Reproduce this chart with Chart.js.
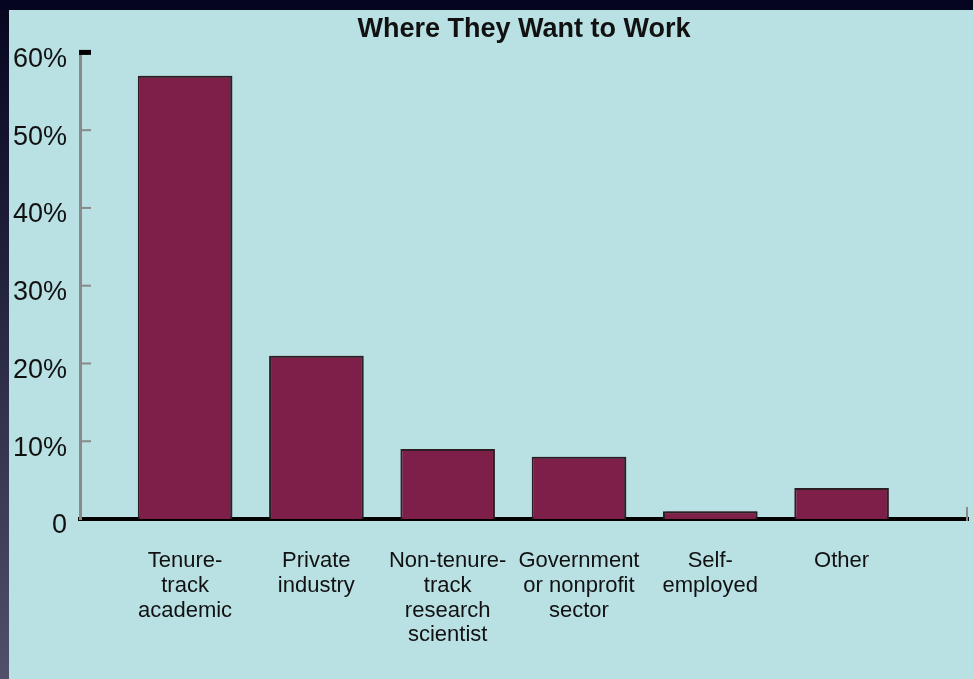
<!DOCTYPE html>
<html>
<head>
<meta charset="utf-8">
<script src="https://cdn.jsdelivr.net/npm/chart.js@4/dist/chart.umd.min.js"></script>
<style>
  html, body { margin: 0; padding: 0; background: #05051f; }
  #wrap { width: 973px; height: 679px; position: relative; }
</style>
</head>
<body>
<div id="wrap"><canvas id="c" width="973" height="679"></canvas></div>
<script>
// ---- data ----
const titleText = "Where They Want to Work";
const categories = [
  ["Tenure-", "track", "academic"],
  ["Private", "industry"],
  ["Non-tenure-", "track", "research", "scientist"],
  ["Government", "or nonprofit", "sector"],
  ["Self-", "employed"],
  ["Other"]
];
const shares = [57, 21, 9, 8, 1, 4];
const yTicks = [0, 10, 20, 30, 40, 50, 60];
const yTickLabels = ["0", "10%", "20%", "30%", "40%", "50%", "60%"];

const panelBg = '#b9e0e3';

const bgPlugin = {
  id: 'bg',
  beforeDraw(chart) {
    const ctx = chart.ctx, w = chart.width, h = chart.height;
    ctx.save();
    ctx.fillStyle = panelBg;
    ctx.fillRect(0, 0, w, h);
    const g = ctx.createLinearGradient(0, 0, 0, h);
    g.addColorStop(0, '#06061f');
    g.addColorStop(0.35, '#1e1e3a');
    g.addColorStop(1, '#50506a');
    ctx.fillStyle = g;
    ctx.fillRect(0, 0, 9, h);
    ctx.fillStyle = '#05051f';
    ctx.fillRect(0, 0, w, 10);
    ctx.restore();
  }
};

const shadowPlugin = {
  id: 'barShadow',
  beforeDatasetsDraw(chart) {
    const ctx = chart.ctx;
    ctx.save();
    ctx.shadowColor = 'rgba(40,40,40,0.55)';
    ctx.shadowOffsetX = 3;
    ctx.shadowOffsetY = 0;
    ctx.shadowBlur = 2;
  },
  afterDatasetsDraw(chart) {
    chart.ctx.restore();
  }
};

const innerTicks = {
  id: 'innerTicks',
  afterDraw(chart) {
    const ctx = chart.ctx, ys = chart.scales.y, xs = chart.scales.x;
    const x0 = ys.right;
    ctx.save();
    yTicks.forEach((v, i) => {
      const y = ys.getPixelForValue(v);
      if (i === 0) return;
      const top = i === yTicks.length - 1;
      ctx.strokeStyle = top ? '#000' : '#8a8a8a';
      ctx.lineWidth = top ? 5 : 2;
      ctx.beginPath();
      ctx.moveTo(x0 - 1, y);
      ctx.lineTo(x0 + 11, y);
      ctx.stroke();
    });
    // small end tick at the right end of the category axis
    const yb = ys.getPixelForValue(0);
    ctx.strokeStyle = '#8a8a8a';
    ctx.lineWidth = 2;
    ctx.beginPath();
    ctx.moveTo(xs.right - 1, yb + 2);
    ctx.lineTo(xs.right - 1, yb - 12);
    ctx.stroke();
    ctx.restore();
  }
};

new Chart(document.getElementById('c'), {
  type: 'bar',
  data: {
    datasets: [{
      data: shares.map((v, i) => ({ x: i, y: v })),
      backgroundColor: '#7e1f4a',
      borderColor: '#2e1e24',
      borderWidth: 2,
      borderSkipped: 'bottom',
      barPercentage: 0.9,
      categoryPercentage: 0.8
    }]
  },
  options: {
    responsive: false,
    animation: false,
    devicePixelRatio: 1,
    layout: { padding: { left: 12, right: 5, top: 0, bottom: 0 } },
    plugins: {
      legend: { display: false },
      tooltip: { enabled: false },
      title: {
        display: true,
        text: titleText,
        fullSize: false,
        color: '#111',
        font: { family: 'Liberation Sans, Arial, sans-serif', size: 27, weight: 'bold' },
        padding: { top: 13, bottom: 7 }
      }
    },
    scales: {
      x: {
        type: 'linear',
        offset: false,
        min: -0.8,
        max: 5.963,
        grid: { display: false, drawTicks: false, offset: false },
        border: { display: true, color: '#000', width: 4 },
        afterBuildTicks(scale) {
          scale.ticks = categories.map((_, i) => ({ value: i }));
        },
        afterFit(scale) { scale.height = 160; },
        ticks: {
          autoSkip: false,
          maxRotation: 0,
          padding: 30,
          color: '#111',
          font: { family: 'Liberation Sans, Arial, sans-serif', size: 22, lineHeight: 1.12 },
          callback: (v) => categories[v]
        }
      },
      y: {
        min: 0,
        max: 60,
        grid: { display: false, drawTicks: false },
        border: { display: true, color: '#8a8a8a', width: 3 },
        afterBuildTicks(scale) {
          scale.ticks = yTicks.map(v => ({ value: v }));
        },
        afterFit(scale) { scale.width = 68; },
        ticks: {
          padding: 13,
          labelOffset: 7,
          color: '#111',
          font: { family: 'Liberation Sans, Arial, sans-serif', size: 27 },
          callback: (v) => yTickLabels[yTicks.indexOf(v)]
        }
      }
    }
  },
  plugins: [bgPlugin, shadowPlugin, innerTicks]
});
</script>
</body>
</html>
